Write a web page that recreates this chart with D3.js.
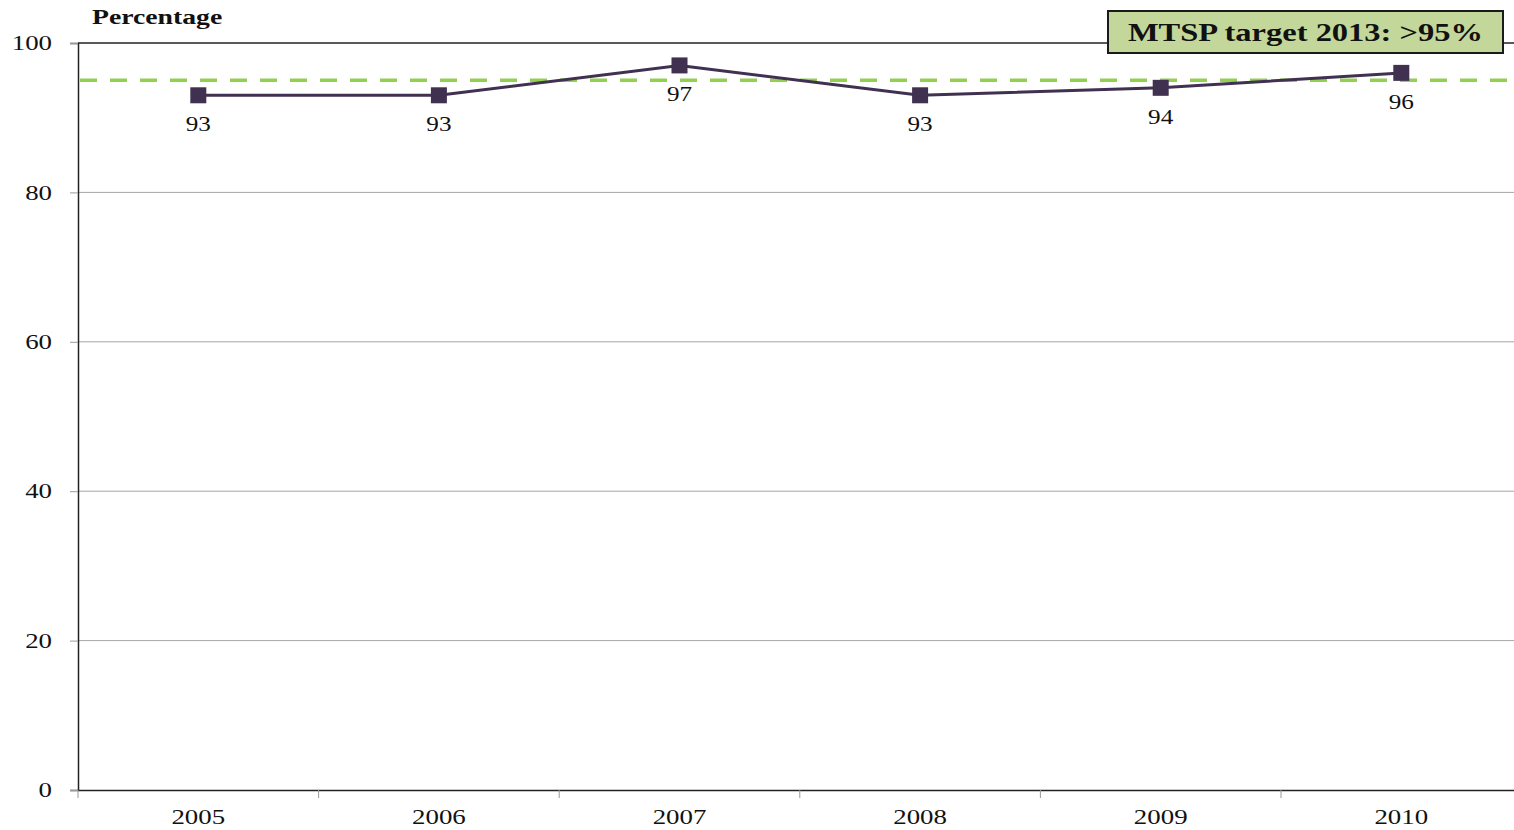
<!DOCTYPE html>
<html>
<head>
<meta charset="utf-8">
<script src="https://cdn.jsdelivr.net/npm/d3@7"></script>
<style>
  body { margin: 0; background: #fff; }
  svg { display: block; font-family: "Liberation Serif", "Times New Roman", serif; }
</style>
</head>
<body>
<div id="chart"></div>
<script>
const years = ["2005", "2006", "2007", "2008", "2009", "2010"];
const values = [93, 93, 97, 93, 94, 96];
const yTicks = [0, 20, 40, 60, 80, 100];
const target = 95;
const targetLabel = "MTSP target 2013: >95%";

const width = 1514, height = 830;
const margin = {top: 43, left: 78, bottom: 40};

// the original text is drawn a bit wider than the font, so stretch it sideways
function stretch(sel, s) {
    sel.each(function() {
        const t = d3.select(this);
        const x = +t.attr("x") || 0;
        t.attr("x", x / s).attr("transform", `scale(${s},1)`);
    });
}

const svg = d3.select("#chart").append("svg")
    .attr("width", width)
    .attr("height", height);

const x = d3.scaleBand()
    .domain(years)
    .range([margin.left, margin.left + 6 * 240.6]);

const y = d3.scaleLinear()
    .domain([0, 100])
    .range([height - margin.bottom, margin.top]);

// gridlines
svg.append("g")
    .selectAll("line")
    .data(yTicks.filter(d => d > 0 && d < 100))
    .join("line")
    .attr("x1", margin.left)
    .attr("x2", width)
    .attr("y1", d => y(d))
    .attr("y2", d => y(d))
    .attr("stroke", "#a6a6a6")
    .attr("stroke-width", 1);

// top border
svg.append("line")
    .attr("x1", margin.left).attr("x2", width)
    .attr("y1", y(100)).attr("y2", y(100))
    .attr("stroke", "#222").attr("stroke-width", 1.5);

// y axis
const yAxis = svg.append("g")
    .attr("transform", `translate(${margin.left},0)`)
    .call(d3.axisLeft(y).tickValues(yTicks).tickSize(8).tickPadding(18));
yAxis.select(".domain").attr("stroke", "#222").attr("stroke-width", 1.5);
yAxis.selectAll(".tick line").attr("stroke", "#999");
yAxis.selectAll("text")
    .attr("font-size", 21)
    .attr("font-family", "Liberation Serif")
    .attr("fill", "#111")
    .call(stretch, 1.28);

// x axis with ticks at category boundaries
const xAxis = svg.append("g")
    .attr("transform", `translate(0,${y(0)})`)
    .call(d3.axisBottom(x).tickSize(0).tickPadding(19));
xAxis.select(".domain").attr("stroke", "#222").attr("stroke-width", 1.5);
xAxis.selectAll(".tick text")
    .attr("font-size", 21)
    .attr("font-family", "Liberation Serif")
    .attr("fill", "#111")
    .call(stretch, 1.28);
xAxis.selectAll(".boundary")
    .data(years)
    .join("line")
    .attr("class", "boundary")
    .attr("x1", d => x(d))
    .attr("x2", d => x(d))
    .attr("y1", 0)
    .attr("y2", 8)
    .attr("stroke", "#999");

// target line
svg.append("line")
    .attr("x1", margin.left + 2).attr("x2", width)
    .attr("y1", y(target)).attr("y2", y(target))
    .attr("stroke", "#92d050")
    .attr("stroke-width", 3.5)
    .attr("stroke-dasharray", "17,13");

// series line
const cx = d => x(d) + x.bandwidth() / 2;
const line = d3.line()
    .x((d, i) => cx(years[i]))
    .y(d => y(d));

svg.append("path")
    .datum(values)
    .attr("d", line)
    .attr("fill", "none")
    .attr("stroke", "#403151")
    .attr("stroke-width", 3);

svg.selectAll(".marker")
    .data(values)
    .join("rect")
    .attr("class", "marker")
    .attr("x", (d, i) => cx(years[i]) - 8)
    .attr("y", d => y(d) - 8)
    .attr("width", 16)
    .attr("height", 16)
    .attr("fill", "#403151");

svg.selectAll(".value-label")
    .data(values)
    .join("text")
    .attr("class", "value-label")
    .attr("transform", (d, i) => `translate(${cx(years[i])},${y(d) + 36}) scale(1.2,1)`)
    .attr("text-anchor", "middle")
    .attr("font-size", 21)
    .attr("fill", "#111")
    .text(d => d);

// axis title
svg.append("text")
    .attr("transform", "translate(92,24) scale(1.32,1)")
    .attr("font-size", 21)
    .attr("font-weight", "bold")
    .attr("fill", "#111")
    .text("Percentage");

// target box
const box = svg.append("g").attr("transform", "translate(1108,11)");
box.append("rect")
    .attr("width", 395)
    .attr("height", 42)
    .attr("fill", "#c4d79b")
    .attr("stroke", "#1a1a1a")
    .attr("stroke-width", 2);
box.append("text")
    .attr("transform", "translate(197.5,30) scale(1.3,1)")
    .attr("text-anchor", "middle")
    .attr("font-size", 25)
    .attr("font-weight", "bold")
    .attr("fill", "#111")
    .text(targetLabel);
</script>
</body>
</html>
